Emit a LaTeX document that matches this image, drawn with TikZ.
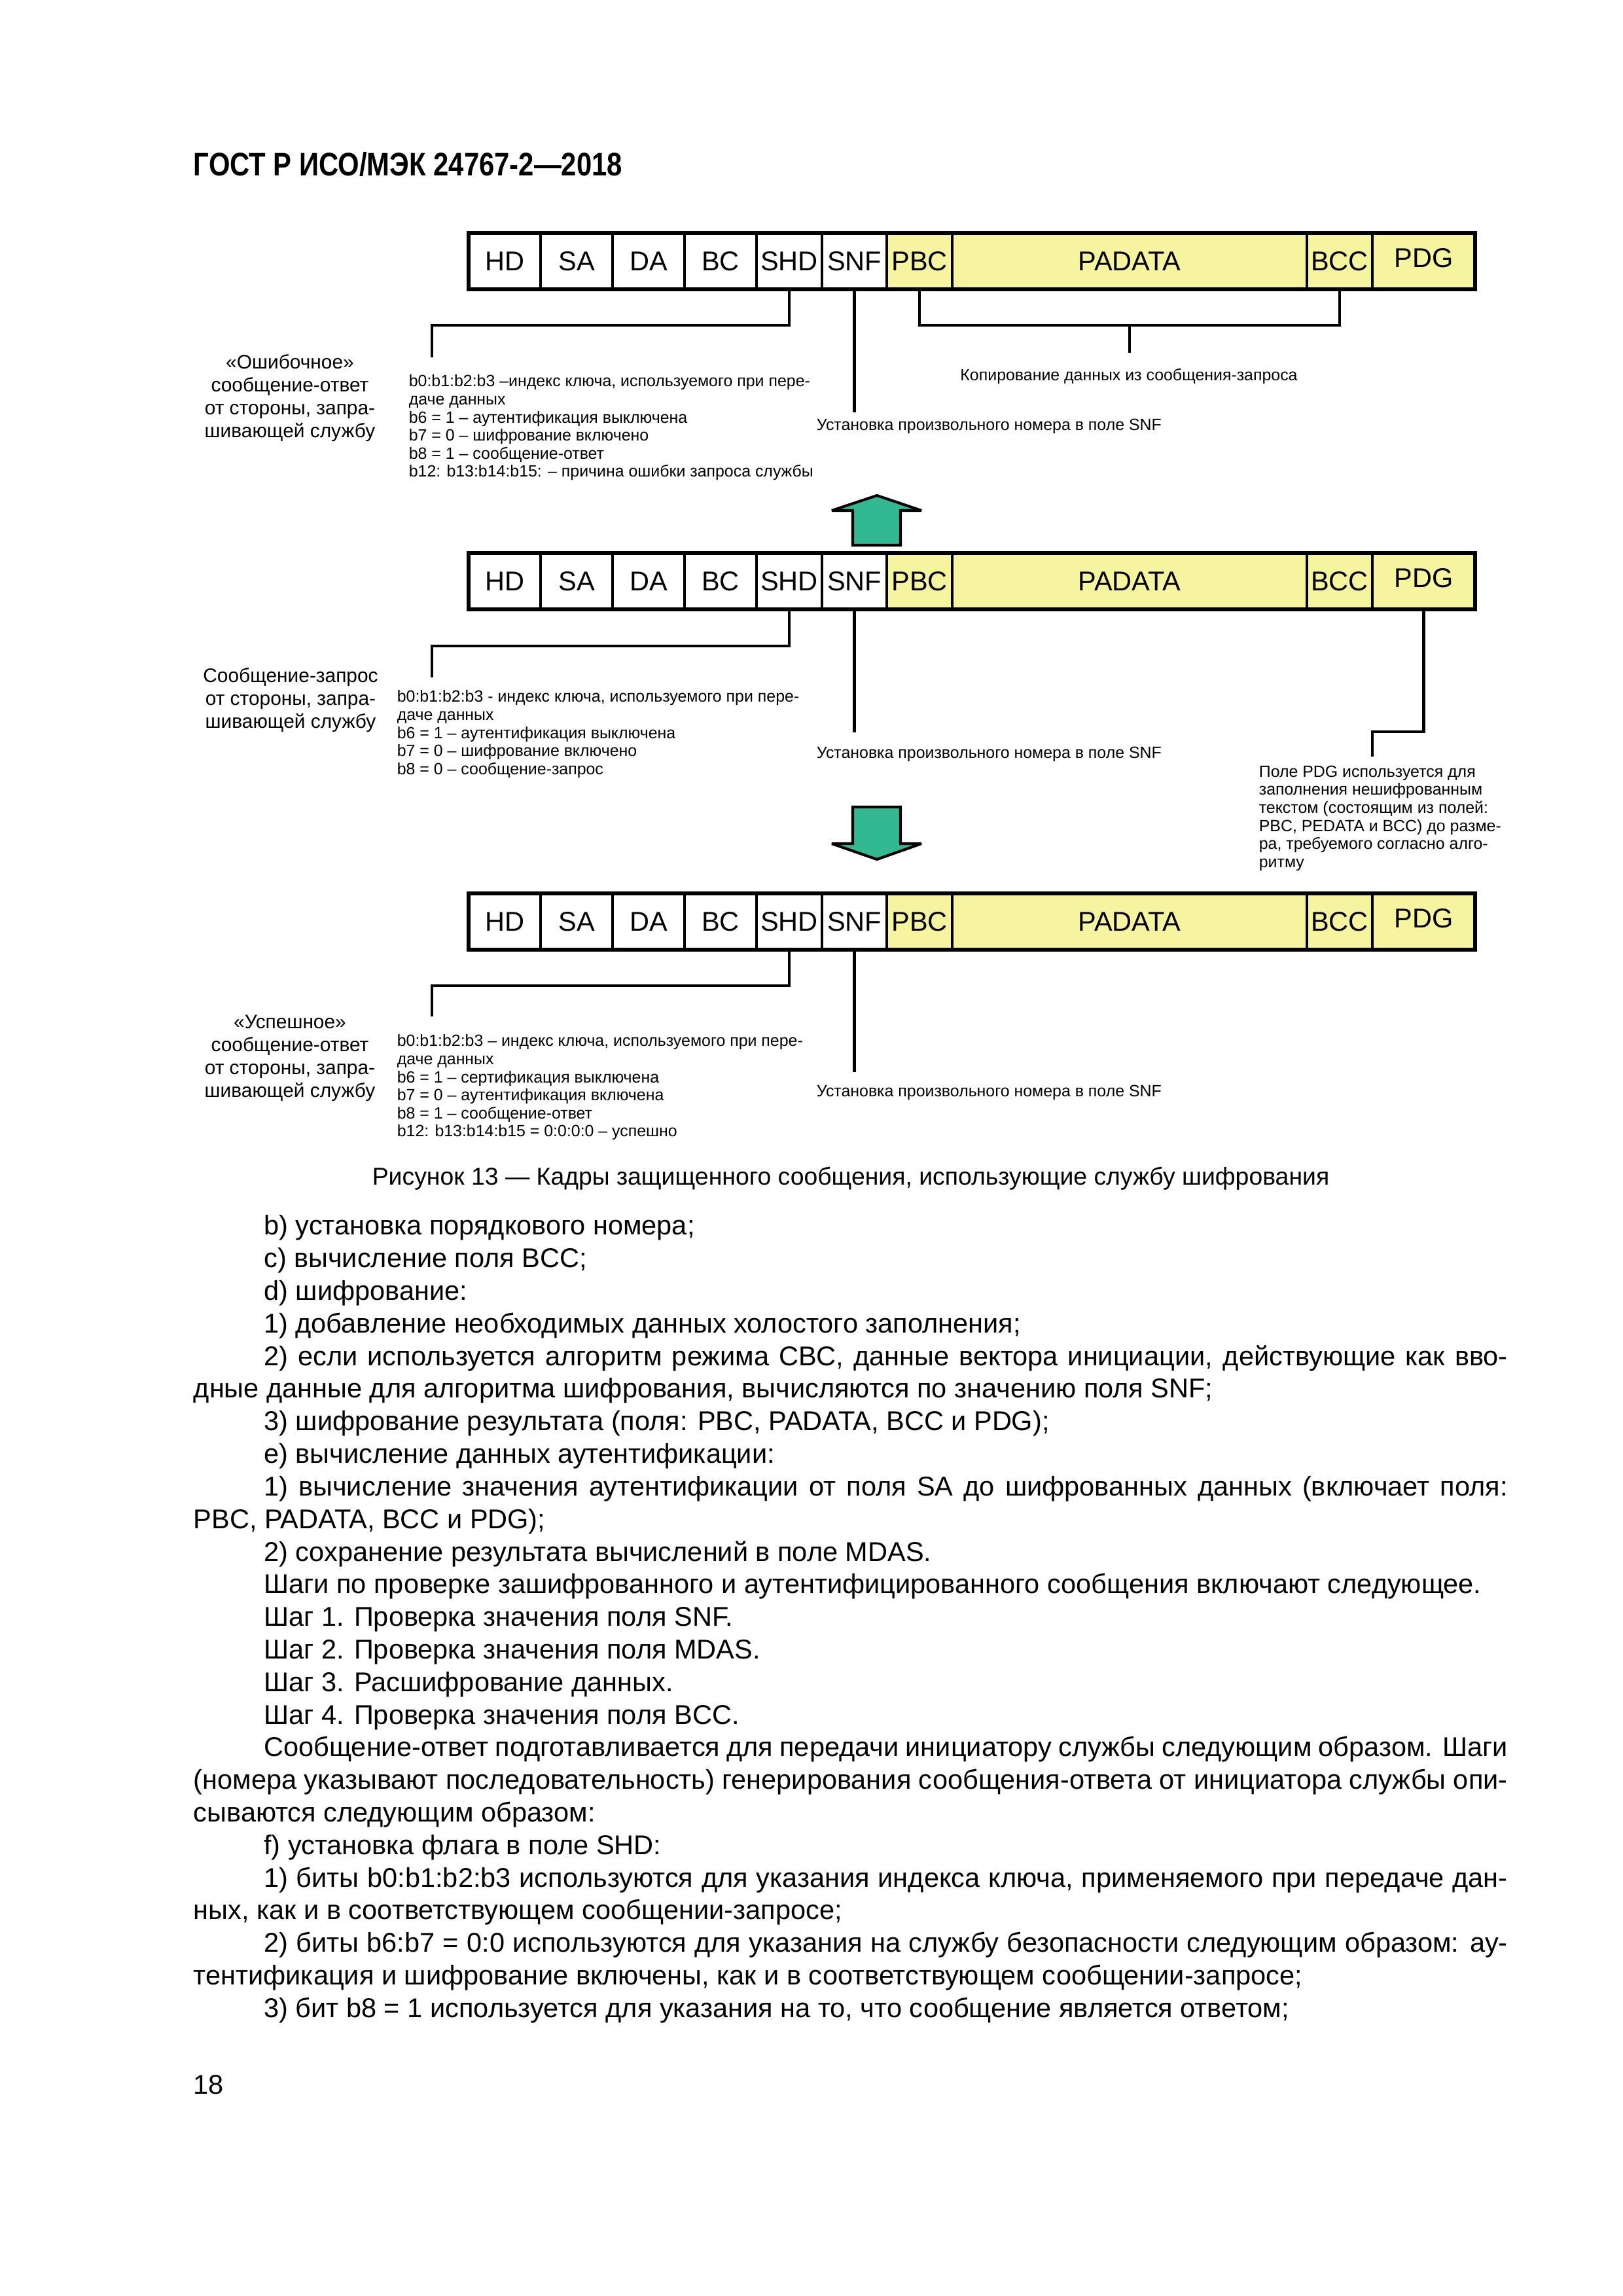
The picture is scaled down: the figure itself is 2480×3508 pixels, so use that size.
\documentclass[tikz,border=0pt]{standalone}
\usepackage{fontspec}
\setmainfont{Liberation Sans}
\newfontfamily\narrowhdr{Liberation Sans}[FakeStretch=0.84]
\usetikzlibrary{calc}
\definecolor{cellyel}{RGB}{247,244,160}
\definecolor{arrteal}{RGB}{51,185,146}
\tikzset{
  cell/.style={draw=black, line width=0.28mm, minimum height={86*0.084677mm}, inner sep=0pt, outer sep=0pt, font=\fontsize{10}{12}\selectfont},
  frameborder/.style={draw=black, line width=0.45mm},
  conn/.style={draw=black, line width=0.4mm},
  bigarrow/.style={fill=arrteal, draw=black, line width=0.35mm, line join=miter, miter limit=4},
  lbl/.style={font=\fontsize{7.2}{8.4}\selectfont, align=center, inner sep=0pt, anchor=north},
  note/.style={font=\fontsize{6}{6.65}\selectfont, align=left, inner sep=0pt, anchor=north west},
  small/.style={font=\fontsize{6}{6.65}\selectfont, inner sep=0pt}
}
\newcommand{\msgframe}[2]{%
  \foreach \nm/\xa/\xb/\lab/\fl/\dy in {hd/716/826/HD/white/0pt, sa/826/936/SA/white/0pt, da/936/1046/DA/white/0pt, bc/1046/1156/BC/white/0pt, shd/1156/1256/SHD/white/0pt, snf/1256/1355/SNF/white/0pt, pbc/1355/1455/PBC/cellyel/0pt, padata/1455/1997/PADATA/cellyel/0pt, bcc/1997/2097/BCC/cellyel/0pt, pdg/2097/2254/PDG/cellyel/0.85mm}{%
    \node[cell, fill=\fl, minimum width={(\xb-\xa)*0.084677mm}] (#1\nm) at ({(\xa+\xb)/2},#2+43) {\raisebox{\dy}{\lab}};
  }
  \draw[frameborder] (#1hd.north west) rectangle (#1pdg.south east);
}
\begin{document}
\begin{tikzpicture}[x=0.084677mm, y=-0.084677mm]
\fill[white] (0,0) rectangle (2480,3508);
\useasboundingbox (0,0) rectangle (2480,3508);

% header
\node[anchor=base west, inner sep=0pt, font=\narrowhdr\bfseries\fontsize{12}{14}\selectfont] (header) at (295,268) {ГОСТ Р ИСО/МЭК 24767-2—2018};

% ---------- frame 1 ----------
\msgframe{f1}{356}
\coordinate (f1shdend) at (660,546);
\draw[conn] (f1shd.south) -- ++(0,55) -| (f1shdend);
\draw[conn] (f1snf.south) -- ++(0,188) coordinate (f1snfend);
\draw[conn] (f1pbc.south) -- ++(0,55) -| (f1bcc.south);
\coordinate (f1mid) at ($(f1pbc.south)!0.5!(f1bcc.south)+(0,55)$);
\draw[conn] (f1mid) -- ++(0,42) coordinate (f1copyend);

\node[lbl] (f1who) at (443,541) {«Ошибочное»\\сообщение-ответ\\от стороны, запра-\\шивающей службу};
\node[note] (f1bits) at (624,572) {b0:b1:b2:b3 –индекс ключа, используемого при пере-\\даче данных\\b6 = 1 – аутентификация выключена\\b7 = 0 – шифрование включено\\b8 = 1 – сообщение-ответ\\b12: b13:b14:b15: – причина ошибки запроса службы};
\node[small, anchor=base] (f1copy) at (1725,581) {Копирование данных из сообщения-запроса};
\node[small, anchor=base west] (f1snftext) at (1247,657) {Установка произвольного номера в поле SNF};

% arrow up
\draw[bigarrow] (1340,757) -- (1408,780) -- (1376,780) -- (1376,833) -- (1303,833) -- (1303,780) -- (1271,780) -- cycle;

% ---------- frame 2 ----------
\msgframe{f2}{845}
\coordinate (f2shdend) at (660,1035);
\draw[conn] (f2shd.south) -- ++(0,56) -| (f2shdend);
\draw[conn] (f2snf.south) -- ++(0,188) coordinate (f2snfend);
\coordinate (f2pdgend) at (2097,1156);
\draw[conn] (f2pdg.south) -- ++(0,187) -| (f2pdgend);

\node[lbl] (f2who) at (444,1020) {Сообщение-запрос\\от стороны, запра-\\шивающей службу};
\node[note] (f2bits) at (606,1054) {b0:b1:b2:b3 - индекс ключа, используемого при пере-\\даче данных\\b6 = 1 – аутентификация выключена\\b7 = 0 – шифрование включено\\b8 = 0 – сообщение-запрос};
\node[small, anchor=base west] (f2snftext) at (1247,1158) {Установка произвольного номера в поле SNF};
\node[note] (f2pdgtext) at (1923,1169) {Поле PDG используется для\\заполнения нешифрованным\\текстом (состоящим из полей:\\PBC, PEDATA и BCC) до разме-\\ра, требуемого согласно алго-\\ритму};

% arrow down
\draw[bigarrow] (1340,1313) -- (1408,1289) -- (1376,1289) -- (1376,1233) -- (1303,1233) -- (1303,1289) -- (1271,1289) -- cycle;

% ---------- frame 3 ----------
\msgframe{f3}{1365}
\coordinate (f3shdend) at (660,1553);
\draw[conn] (f3shd.south) -- ++(0,55) -| (f3shdend);
\draw[conn] (f3snf.south) -- ++(0,187) coordinate (f3snfend);

\node[lbl] (f3who) at (443,1550) {«Успешное»\\сообщение-ответ\\от стороны, запра-\\шивающей службу};
\node[note] (f3bits) at (606,1580) {b0:b1:b2:b3 – индекс ключа, используемого при пере-\\даче данных\\b6 = 1 – сертификация выключена\\b7 = 0 – аутентификация включена\\b8 = 1 – сообщение-ответ\\b12: b13:b14:b15 = 0:0:0:0 – успешно};
\node[small, anchor=base west] (f3snftext) at (1247,1675) {Установка произвольного номера в поле SNF};

% caption
\node[anchor=base, inner sep=0pt, font=\fontsize{9}{11}\selectfont] (caption) at (1300,1810) {Рисунок 13 — Кадры защищенного сообщения, использующие службу шифрования};

% body text
\node[anchor=north west, inner sep=0pt, text width=170mm, align=justify, font=\fontsize{10}{12}\selectfont] (body) at (295,1856) {%
\setlength{\parindent}{0pt}\hyphenpenalty=10000 \exhyphenpenalty=10000 \tolerance=9999
\hspace*{9.1mm}b) установка порядкового номера;\par
\hspace*{9.1mm}c) вычисление поля BCC;\par
\hspace*{9.1mm}d) шифрование:\par
\hspace*{9.1mm}1) добавление необходимых данных холостого заполнения;\par
\hspace*{9.1mm}2) если используется алгоритм режима CBC, данные вектора инициации, действующие как вво-\linebreak дные данные для алгоритма шифрования, вычисляются по значению поля SNF;\par
\hspace*{9.1mm}3) шифрование результата (поля: PBC, PADATA, BCC и PDG);\par
\hspace*{9.1mm}e) вычисление данных аутентификации:\par
\hspace*{9.1mm}1) вычисление значения аутентификации от поля SA до шифрованных данных (включает поля:\linebreak PBC, PADATA, BCC и PDG);\par
\hspace*{9.1mm}2) сохранение результата вычислений в поле MDAS.\par
\hspace*{9.1mm}Шаги по проверке зашифрованного и аутентифицированного сообщения включают следующее.\par
\hspace*{9.1mm}Шаг 1. Проверка значения поля SNF.\par
\hspace*{9.1mm}Шаг 2. Проверка значения поля MDAS.\par
\hspace*{9.1mm}Шаг 3. Расшифрование данных.\par
\hspace*{9.1mm}Шаг 4. Проверка значения поля BCC.\par
\hspace*{9.1mm}Сообщение-ответ подготавливается для передачи инициатору службы следующим образом. Шаги\linebreak (номера указывают последовательность) генерирования сообщения-ответа от инициатора службы опи-\linebreak сываются следующим образом:\par
\hspace*{9.1mm}f) установка флага в поле SHD:\par
\hspace*{9.1mm}1) биты b0:b1:b2:b3 используются для указания индекса ключа, применяемого при передаче дан-\linebreak ных, как и в соответствующем сообщении-запросе;\par
\hspace*{9.1mm}2) биты b6:b7 = 0:0 используются для указания на службу безопасности следующим образом: ау-\linebreak тентификация и шифрование включены, как и в соответствующем сообщении-запросе;\par
\hspace*{9.1mm}3) бит b8 = 1 используется для указания на то, что сообщение является ответом;\par
};

% page number
\node[anchor=base west, inner sep=0pt, font=\fontsize{10}{12}\selectfont] (pagenum) at (295,3199) {18};
\end{tikzpicture}
\end{document}
